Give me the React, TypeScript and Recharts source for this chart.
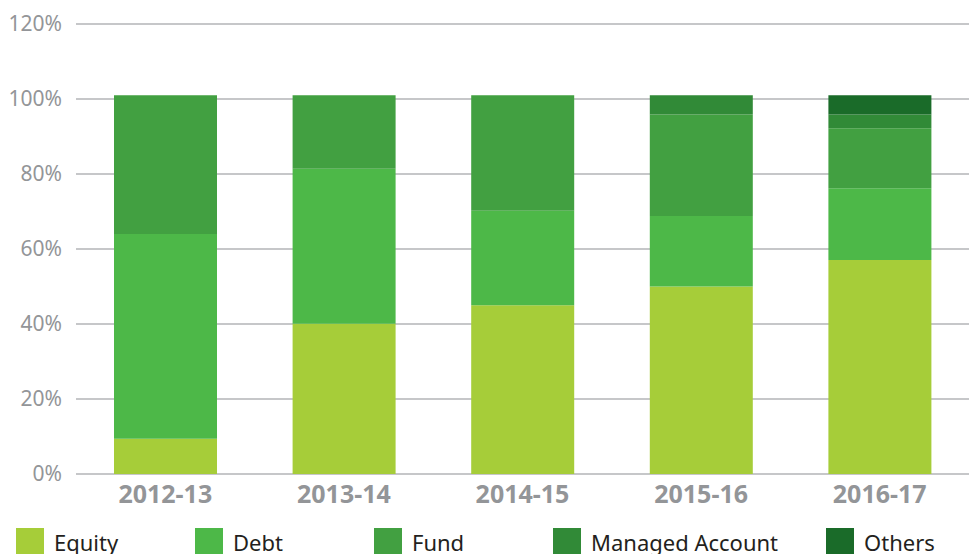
import { BarChart, Bar, XAxis, YAxis, CartesianGrid } from 'recharts';

const years = ['2012-13', '2013-14', '2014-15', '2015-16', '2016-17'];
const equity = [9.4, 40.1, 45.0, 50.0, 57.1];
const debt = [54.6, 41.3, 25.2, 18.8, 19.1];
const fund = [37.0, 19.6, 30.8, 27.1, 16.0];
const managedAccount = [0, 0, 0, 5.1, 3.7];
const others = [0, 0, 0, 0, 5.1];
const yTicks = [0, 20, 40, 60, 80, 100, 120];

const series = [
  { key: 'equity', label: 'Equity', color: '#a6cd39' },
  { key: 'debt', label: 'Debt', color: '#4db848' },
  { key: 'fund', label: 'Fund', color: '#42a041' },
  { key: 'managed', label: 'Managed Account', color: '#318a37' },
  { key: 'others', label: 'Others', color: '#1a6b29' },
];

const data = years.map((year, i) => ({
  year,
  equity: equity[i],
  debt: debt[i],
  fund: fund[i],
  managed: managedAccount[i],
  others: others[i],
}));

const font = '"Noto Sans", "Open Sans", sans-serif';

export default function App() {
  return (
    <div style={{ position: 'absolute', left: 0, top: 0, width: 970, height: 554, overflow: 'hidden', background: '#fff', fontFamily: font }}>
      <BarChart width={970} height={520} data={data} margin={{ top: 24, right: 1, left: 0, bottom: 0 }}>
        <CartesianGrid vertical={false} stroke="#c6c7c9" strokeWidth={2} />
        <XAxis
          dataKey="year"
          height={46}
          axisLine={false}
          tickLine={false}
          tickSize={0}
          tickMargin={11}
          tick={{ fill: '#939598', fontSize: 25, fontWeight: 700, fontFamily: font }}
        />
        <YAxis
          width={76}
          domain={[0, 120]}
          ticks={yTicks}
          tickFormatter={(v: number) => `${v}%`}
          axisLine={false}
          tickLine={false}
          tickSize={0}
          tickMargin={14}
          tick={{ fill: '#939598', fontSize: 21, fontFamily: font }}
        />
        {series.map((s) => (
          <Bar key={s.key} dataKey={s.key} name={s.label} stackId="a" fill={s.color} barSize={103} isAnimationActive={false} />
        ))}
      </BarChart>
      <div style={{ position: 'absolute', left: 16, top: 528, width: 1100, display: 'flex', alignItems: 'flex-start', whiteSpace: 'nowrap' }}>
        {series.map((s) => (
          <div key={s.key} style={{ display: 'flex', alignItems: 'flex-start', flexShrink: 0, minWidth: 179, paddingRight: s.key === 'managed' ? 48 : 0, boxSizing: 'border-box' }}>
            <span style={{ width: 28, height: 28, background: s.color, display: 'inline-block', marginRight: 10, flexShrink: 0 }} />
            <span style={{ fontSize: 22, color: '#231f20', lineHeight: '30px', position: 'relative', top: -1 }}>{s.label}</span>
          </div>
        ))}
      </div>
    </div>
  );
}
